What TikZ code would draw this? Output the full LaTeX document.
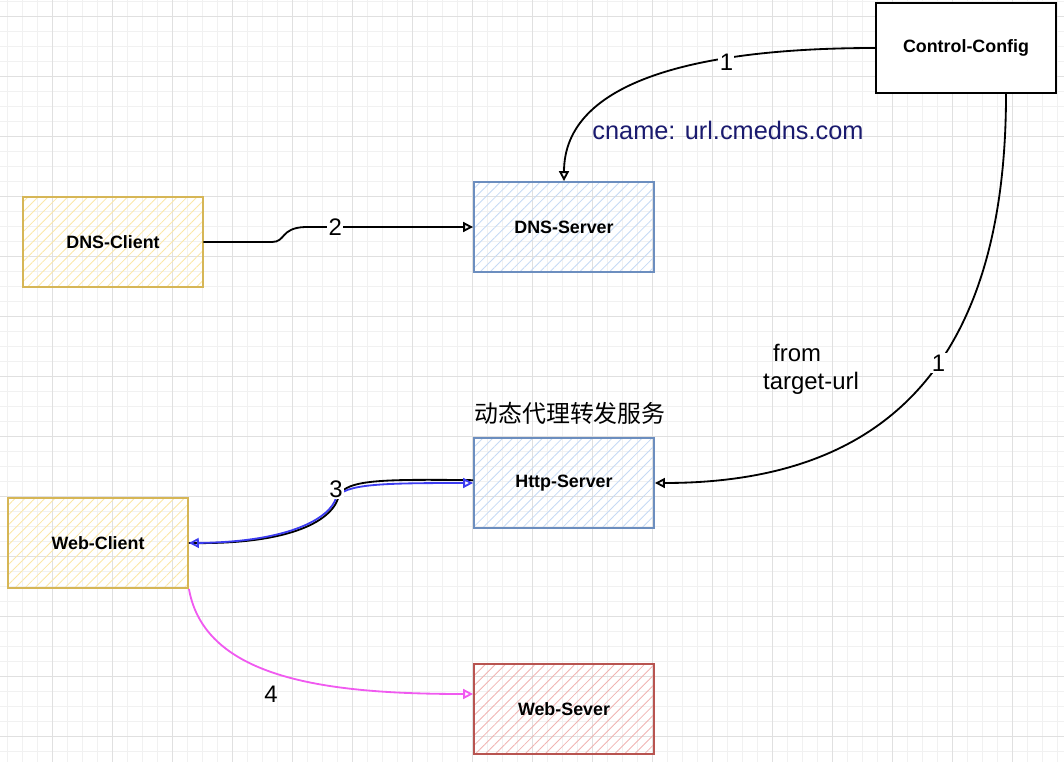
\documentclass[tikz,border=0pt]{standalone}
\usepackage{fontspec}
\setmainfont{Liberation Sans}
\newfontfamily\cjkfont{Noto Sans CJK SC}
\usepackage{xcolor}
\usetikzlibrary{arrows.meta,positioning,patterns.meta}

\definecolor{clientline}{HTML}{D6B656}
\definecolor{clienthatch}{HTML}{FBE7A6}
\definecolor{serverline}{HTML}{6C8EBF}
\definecolor{serverhatch}{HTML}{C6DAF4}
\definecolor{webline}{HTML}{B85450}
\definecolor{webhatch}{HTML}{F0B4B2}
\definecolor{reqblue}{HTML}{3C3CF0}
\definecolor{fetchpink}{HTML}{F05AF0}
\definecolor{cnamenavy}{HTML}{1A1A6E}
\definecolor{gridminor}{HTML}{F1F1F1}
\definecolor{gridmajor}{HTML}{E0E0E0}

\begin{document}
\begin{tikzpicture}[
  x=0.025cm, y=-0.025cm,
  box/.style={draw, line width=1.3pt, minimum width=4.5cm, minimum height=2.25cm, align=center,
    font=\fontsize{12.7}{15}\selectfont\bfseries},
  client/.style={box, draw=clientline, pattern={Lines[angle=45,distance=5pt,line width=0.6pt]}, pattern color=clienthatch},
  server/.style={box, draw=serverline, pattern={Lines[angle=45,distance=5pt,line width=0.6pt]}, pattern color=serverhatch},
  websrv/.style={box, draw=webline, pattern={Lines[angle=45,distance=5pt,line width=0.6pt]}, pattern color=webhatch},
  arr/.style={-{Triangle[open,length=7pt,width=7pt]}, line width=1.3pt},
  num/.style={fill=white, text=black, inner sep=1pt, font=\fontsize{17}{20}\selectfont},
  note/.style={font=\fontsize{17}{20}\selectfont}
]
  \useasboundingbox (0,0) rectangle (1064,762);

  % background grid
  \foreach \gx in {7,22,...,1064} \draw[gridminor, line width=0.5pt] (\gx,0) -- (\gx,762);
  \foreach \gy in {1,16,...,762} \draw[gridminor, line width=0.5pt] (0,\gy) -- (1064,\gy);
  \foreach \gx in {52,112,...,1064} \draw[gridmajor, line width=0.6pt] (\gx,0) -- (\gx,762);
  \foreach \gy in {16,76,...,762} \draw[gridmajor, line width=0.6pt] (0,\gy) -- (1064,\gy);

  % boxes
  \node[client] (dnsclient) at (113,242) {DNS-Client};
  \node[server] (dnsserver) at (564,227) {DNS-Server};
  \node[box, draw=black, fill=white] (control) at (966,48) {Control-Config};
  \node[server] (http) at (564,483) {Http-Server};
  \node[client] (webclient) at (98,543) {Web-Client};
  \node[websrv] (websever) at (564,709) {Web-Sever};

  % notes
  \node[note, text=cnamenavy, font=\fontsize{18}{21}\selectfont] (cname) at (728,130) {cname: url.cmedns.com};
  \node[note, align=left, font=\fontsize{17}{20}\selectfont] (fromurl) at (811,369) {\hspace*{0.25cm}from\\target-url};
  \node[note, font=\fontsize{17}{20}\selectfont\cjkfont] (proxy) at (570,413) {动态代理转发服务};

  % 1: config -> dns server
  \draw[arr] (control.west) .. controls (700,48) and (564,80) .. node[num, pos=0.31, yshift=-3pt] {1} (dnsserver.north);
  % 1: config -> http server
  \draw[arr] ([xshift=1cm]control.south) .. controls (1006,400) and (850,483) .. node[num, pos=0.4] {1} (http.east);

  % 2: dns client -> dns server
  \draw[arr] (dnsclient.east) -- (272,242) .. controls (286,242) and (280,228) .. (305,227)
    -- node[num, pos=0.18] {2} (dnsserver.west);

  % 3: web client <-> http server
  \draw[line width=1.3pt] (webclient.east) .. controls (292,545) and (334,520) .. (339,495)
    .. controls (348,480) and (380,479) .. ([yshift=2pt]http.west);
  \draw[reqblue, line width=1.3pt, {Triangle[open,length=7pt,width=7pt]}-{Triangle[open,length=7pt,width=7pt]}]
    (webclient.east) .. controls (290,542) and (330,518) .. (336,498)
    node[num, yshift=6pt] (three) {3}
    .. controls (345,484) and (380,483) .. (http.west);

  % 4: web client -> web server
  \draw[arr, fetchpink] (webclient.south east) .. controls (205,680) and (330,694) .. ([yshift=0.375cm]websever.west);
  \node[num, fill=none] (four) at (271,694) {4};
\end{tikzpicture}
\end{document}
